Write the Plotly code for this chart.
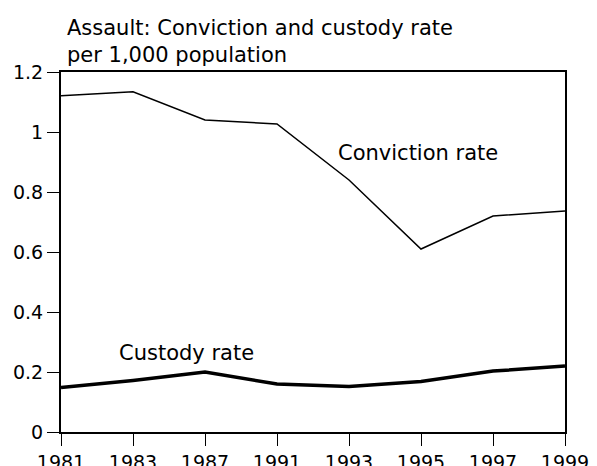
import plotly.graph_objects as go

years = ["1981", "1983", "1987", "1991", "1993", "1995", "1997", "1999"]
conviction_rate = [1.121, 1.134, 1.04, 1.027, 0.84, 0.61, 0.72, 0.737]
custody_rate = [0.148, 0.172, 0.2, 0.16, 0.152, 0.168, 0.203, 0.22]
y_ticks = [0, 0.2, 0.4, 0.6, 0.8, 1, 1.2]
y_tick_labels = ["0", "0.2", "0.4", "0.6", "0.8", "1", "1.2"]

FONT = "DejaVu Sans"

# page body has an 8px margin, so offsets compensate for it
L, T, PW, PH = 53, 64, 504, 360

fig = go.Figure()
fig.add_trace(go.Scatter(x=years, y=conviction_rate, mode="lines",
                         line=dict(color="black", width=1.5), name="Conviction rate",
                         showlegend=False))
fig.add_trace(go.Scatter(x=years, y=custody_rate, mode="lines",
                         line=dict(color="black", width=3.5), name="Custody rate",
                         showlegend=False))

fig.update_layout(
    width=597, height=466,
    margin=dict(l=L, r=597 - L - PW, t=T, b=466 - T - PH, autoexpand=False),
    paper_bgcolor="white", plot_bgcolor="white",
    font=dict(family=FONT, size=19, color="black"),
    xaxis=dict(type="category", range=[0, 7], showgrid=False, zeroline=False,
               automargin=False,
               showline=True, linecolor="black", linewidth=2, mirror=True,
               ticks="outside", ticklen=12, tickwidth=1, tickcolor="black",
               tickfont=dict(family=FONT, size=19)),
    yaxis=dict(range=[0, 1.2], tickvals=y_ticks, ticktext=y_tick_labels,
               showgrid=False, zeroline=False, automargin=False,
               showline=True, linecolor="black", linewidth=2, mirror=True,
               ticks="outside", ticklen=12, tickwidth=1, tickcolor="black",
               tickfont=dict(family=FONT, size=19)),
    annotations=[
        dict(text="Assault: Conviction and custody rate<br>per 1,000 population",
             xref="paper", yref="paper", x=(65 - 61) / 504, y=(432 - 14) / 360,
             xanchor="left", yanchor="top", align="left", showarrow=False,
             font=dict(family=FONT, size=21)),
        dict(text="Conviction rate", xref="paper", yref="paper",
             x=(336 - 61) / 504, y=(432 - 153) / 360, xanchor="left", yanchor="middle",
             showarrow=False, font=dict(family=FONT, size=21)),
        dict(text="Custody rate", xref="paper", yref="paper",
             x=(117 - 61) / 504, y=(432 - 353) / 360, xanchor="left", yanchor="middle",
             showarrow=False, font=dict(family=FONT, size=21)),
    ],
)

fig.write_html("out.html")
